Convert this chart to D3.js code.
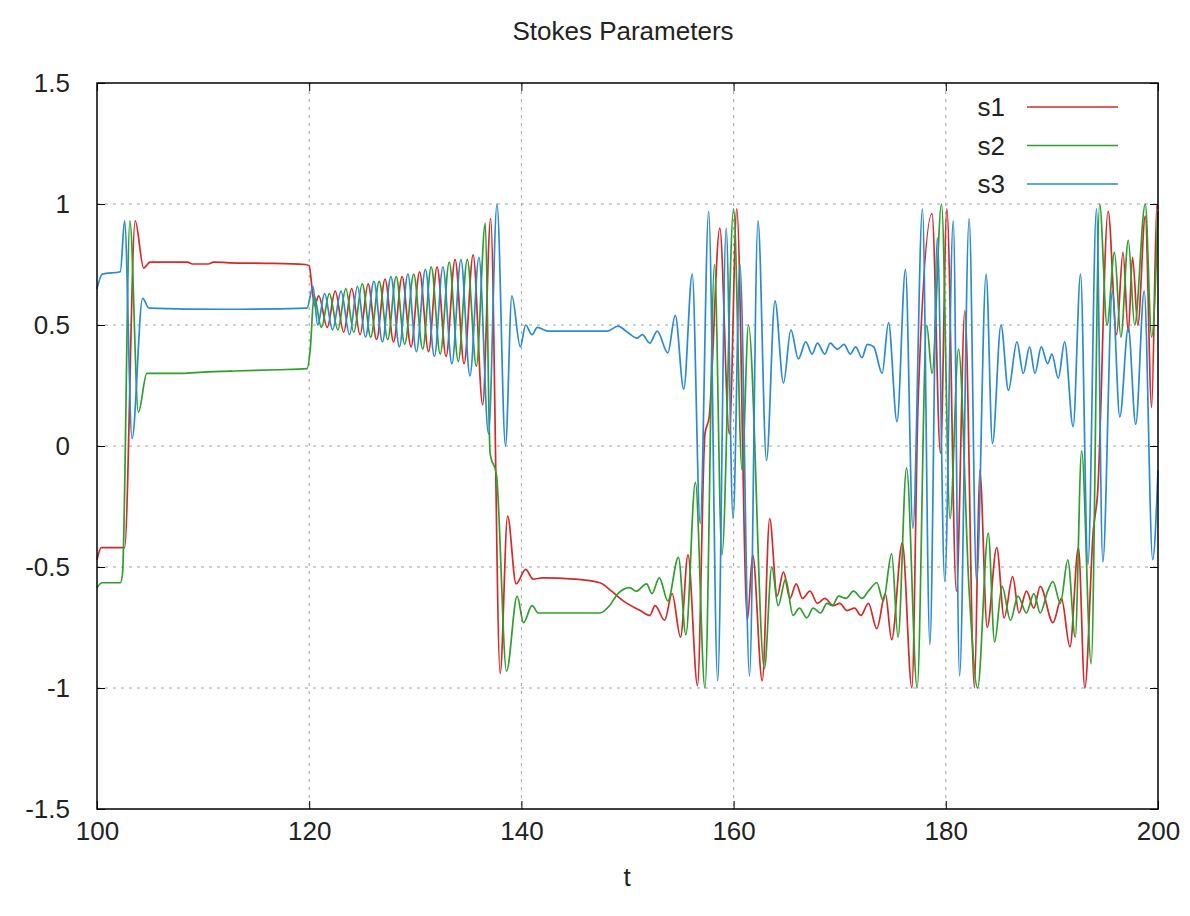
<!DOCTYPE html>
<html>
<head>
<meta charset="utf-8">
<script src="https://cdn.jsdelivr.net/npm/d3@7"></script>
<style>
  body { margin: 0; background: #fff; }
  text { font-family: "Liberation Sans", Arial, sans-serif; fill: #222; }
</style>
</head>
<body>
<svg id="chart"></svg>
<script>
// Stokes parameters, as [t, value] pairs
const s1Points = [
  [100.0,-0.47],[100.4,-0.42],[102.6,-0.42],[103.6,0.93],[104.4,0.735],[105.0,0.76],[108.5,0.76],[109.0,0.752],
  [110.5,0.752],[111.0,0.76],[112.5,0.757],[116.0,0.755],[119.6,0.75],[120.0,0.745],[120.25,0.66],[120.5,0.58],
  [120.9,0.62],[121.7,0.49],[122.45,0.64],[123.25,0.47],[124.0,0.65],[124.8,0.46],[125.55,0.67],[126.35,0.44],
  [127.15,0.69],[127.95,0.43],[128.75,0.70],[129.6,0.41],[130.4,0.72],[131.25,0.39],[132.05,0.74],[132.9,0.37],
  [133.75,0.77],[134.6,0.34],[135.45,0.79],[136.35,0.17],[137.1,0.94],[138.0,-0.94],[138.7,-0.29],[139.5,-0.57],
  [140.4,-0.51],[141.1,-0.55],[142.0,-0.545],[145.0,-0.55],[147.4,-0.565],[148.5,-0.6],[149.6,-0.64],[151.2,-0.68],
  [152.1,-0.70],[152.6,-0.66],[153.5,-0.72],[154.2,-0.61],[155.0,-0.79],[155.7,-0.45],[156.6,-0.99],[157.3,0.05],
  [157.7,0.12],[158.7,0.9],[159.6,0.05],[160.3,0.98],[161.3,-0.72],[161.8,-0.45],[162.7,-0.97],[163.4,-0.3],
  [164.1,-0.62],[164.7,-0.52],[165.3,-0.63],[165.9,-0.57],[166.5,-0.63],[167.2,-0.6],[167.9,-0.65],[168.6,-0.63],
  [169.4,-0.66],[170.0,-0.65],[170.7,-0.68],[171.4,-0.67],[172.0,-0.70],[172.7,-0.65],[173.5,-0.755],[174.3,-0.61],
  [174.9,-0.80],[175.9,-0.40],[176.8,-1.0],[177.4,0.2],[178.7,0.96],[179.5,-0.03],[180.1,0.98],[181.0,-0.6],
  [181.8,0.56],[182.7,-1.0],[183.2,-0.1],[183.9,-0.75],[184.8,-0.42],[185.5,-0.71],[186.3,-0.54],[186.9,-0.69],
  [187.6,-0.6],[188.3,-0.67],[188.9,-0.58],[190.1,-0.73],[190.9,-0.63],[191.7,-0.83],[192.5,-0.42],[193.1,-1.0],
  [193.9,-0.35],[194.3,-0.2],[195.3,0.97],[196.1,0.46],[196.7,0.80],[197.2,0.47],[197.6,0.78],[198.1,0.5],
  [198.8,0.95],[199.4,0.16],[199.9,1.0],[200.0,0.98]
];
const s2Points = [
  [100.0,-0.585],[100.5,-0.565],[102.2,-0.565],[102.4,-0.53],[103.1,0.93],[103.9,0.14],[104.7,0.30],[108.0,0.30],
  [110.0,0.305],[113.0,0.31],[117.0,0.315],[119.8,0.32],[120.1,0.4],[120.45,0.62],[121.15,0.49],[121.9,0.63],
  [122.7,0.48],[123.45,0.65],[124.2,0.47],[125.0,0.67],[125.8,0.45],[126.6,0.68],[127.4,0.44],[128.2,0.70],
  [129.0,0.42],[129.85,0.71],[130.7,0.40],[131.5,0.74],[132.35,0.38],[133.2,0.76],[134.05,0.35],[134.9,0.77],
  [135.75,0.33],[136.6,0.92],[137.05,-0.03],[137.65,-0.12],[138.6,-0.93],[139.6,-0.62],[140.2,-0.73],[141.0,-0.66],
  [141.6,-0.69],[147.4,-0.69],[148.3,-0.66],[149.1,-0.61],[150.2,-0.585],[150.8,-0.6],[151.8,-0.57],[152.3,-0.61],
  [153.0,-0.545],[153.8,-0.64],[154.8,-0.46],[155.5,-0.78],[156.4,-0.15],[157.3,-1.0],[158.2,0.75],[158.9,-0.45],
  [160.0,0.98],[160.8,-0.1],[161.4,0.5],[162.9,-0.92],[163.6,-0.5],[164.2,-0.66],[164.9,-0.55],[165.6,-0.7],
  [166.2,-0.67],[166.9,-0.71],[167.5,-0.67],[168.2,-0.69],[168.8,-0.65],[169.3,-0.66],[169.9,-0.62],[170.6,-0.63],
  [171.3,-0.6],[172.1,-0.63],[172.7,-0.6],[173.5,-0.565],[174.1,-0.64],[174.9,-0.445],[175.5,-0.79],[176.3,-0.09],
  [177.3,-1.0],[178.2,0.5],[178.7,0.3],[179.6,1.0],[180.4,-0.3],[181.2,0.4],[182.2,-0.6],[183.0,-1.0],
  [184.0,-0.36],[184.6,-0.81],[185.3,-0.58],[186.1,-0.72],[186.8,-0.62],[187.6,-0.69],[188.3,-0.61],[188.9,-0.69],
  [189.6,-0.6],[190.1,-0.56],[190.8,-0.65],[191.5,-0.47],[192.2,-0.79],[192.8,-0.02],[193.7,-0.9],[194.5,1.0],
  [195.2,0.5],[195.9,0.8],[196.5,0.45],[197.2,0.85],[197.8,0.5],[198.8,1.0],[199.4,0.45],[200.0,0.97]
];
const s3Points = [
  [100.0,0.65],[100.5,0.71],[102.2,0.72],[102.6,0.93],[103.3,0.03],[104.3,0.61],[104.9,0.57],[112.0,0.565],
  [119.8,0.57],[120.35,0.66],[120.8,0.5],[121.45,0.63],[122.2,0.48],[123.0,0.64],[123.8,0.46],[124.55,0.66],
  [125.3,0.45],[126.1,0.68],[126.9,0.43],[127.7,0.70],[128.5,0.41],[129.3,0.71],[130.1,0.39],[130.95,0.73],
  [131.8,0.37],[132.6,0.74],[133.45,0.34],[134.3,0.77],[135.15,0.29],[136.0,0.78],[136.9,0.05],[137.7,1.0],
  [138.5,0.0],[139.1,0.62],[139.9,0.41],[140.4,0.5],[141.0,0.46],[141.5,0.49],[142.5,0.475],[148.1,0.475],
  [149.1,0.495],[150.0,0.47],[150.9,0.446],[151.4,0.46],[152.1,0.425],[152.8,0.475],[153.8,0.385],[154.5,0.54],
  [155.3,0.235],[156.1,0.71],[156.85,-0.32],[157.65,0.97],[158.5,-0.97],[159.3,0.9],[159.95,-0.3],[160.6,0.75],
  [161.5,-0.95],[162.3,0.93],[163.1,-0.06],[163.9,0.6],[164.7,0.26],[165.4,0.48],[166.1,0.36],[166.8,0.43],
  [167.4,0.38],[167.9,0.425],[168.6,0.38],[169.1,0.425],[169.8,0.40],[170.4,0.42],[171.0,0.38],[171.5,0.41],
  [172.1,0.365],[172.6,0.42],[173.2,0.41],[174.0,0.30],[174.6,0.51],[175.4,0.10],[176.2,0.73],[176.9,-0.34],
  [177.8,0.98],[178.5,-0.82],[179.2,0.86],[179.9,-0.56],[180.7,0.93],[181.3,-0.95],[182.2,0.94],[182.9,-0.56],
  [183.8,0.71],[184.4,0.01],[185.2,0.5],[185.9,0.23],[186.7,0.43],[187.3,0.30],[187.9,0.41],[188.4,0.30],
  [189.0,0.41],[189.6,0.34],[190.0,0.38],[190.6,0.28],[191.2,0.43],[192.0,0.08],[192.7,0.71],[193.4,-0.49],
  [194.2,0.98],[194.8,-0.48],[195.7,0.64],[196.4,0.12],[197.2,0.49],[197.9,0.09],[198.7,0.64],[199.5,-0.47],
  [200.0,-0.1]
];

const seriesNames = ["s1", "s2", "s3"];
const seriesColors = ["#d42a2a", "#2e9e2e", "#2a8ad2"];
const xTicks = [100, 120, 140, 160, 180, 200];
const yTicks = [-1.5, -1, -0.5, 0, 0.5, 1, 1.5];

let svgWidth = 1190;
let svgHeight = 916;

let margin = { top: 83, right: 32, bottom: 107, left: 97 };

let width = svgWidth - margin.left - margin.right;
let height = svgHeight - margin.top - margin.bottom;

let svg = d3.select("#chart")
  .attr("width", svgWidth)
  .attr("height", svgHeight);

let chartGroup = svg.append("g")
  .attr("transform", `translate(${margin.left}, ${margin.top})`);

let xScale = d3.scaleLinear().domain([100, 200]).range([0, width]);
let yScale = d3.scaleLinear().domain([-1.5, 1.5]).range([height, 0]);

// dashed grid
chartGroup.append("g")
  .selectAll("line")
  .data(xTicks.slice(1, -1))
  .enter()
  .append("line")
  .attr("x1", d => xScale(d)).attr("x2", d => xScale(d))
  .attr("y1", 0).attr("y2", height)
  .attr("stroke", "#a0a0a0")
  .attr("stroke-width", 1)
  .attr("stroke-dasharray", "3,5");

chartGroup.append("g")
  .selectAll("line")
  .data(yTicks.slice(1, -1))
  .enter()
  .append("line")
  .attr("x1", 0).attr("x2", width)
  .attr("y1", d => yScale(d)).attr("y2", d => yScale(d))
  .attr("stroke", "#a0a0a0")
  .attr("stroke-width", 1)
  .attr("stroke-dasharray", "3,5");

// series
let line = d3.line()
  .x(d => xScale(d[0]))
  .y(d => yScale(d[1]))
  .curve(d3.curveMonotoneX);

let allSeries = [s1Points, s2Points, s3Points];

chartGroup.append("g")
  .selectAll("path")
  .data(allSeries)
  .enter()
  .append("path")
  .attr("d", d => line(d))
  .attr("fill", "none")
  .attr("stroke", (d, i) => seriesColors[i])
  .attr("stroke-width", 1.7)
  .attr("stroke-linejoin", "round");

// axes, ticks pointing inward, mirrored on top and right
// plain hyphen for negatives, like the original
let bottomAxis = d3.axisBottom(xScale).tickValues(xTicks).tickSize(-8).tickPadding(13).tickFormat(d => String(d));
let leftAxis = d3.axisLeft(yScale).tickValues(yTicks).tickSize(-8).tickPadding(27).tickFormat(d => String(d));
let topAxis = d3.axisTop(xScale).tickValues(xTicks).tickSize(-8).tickFormat("");
let rightAxis = d3.axisRight(yScale).tickValues(yTicks).tickSize(-8).tickFormat("");

function styleAxis(g) {
  g.select(".domain").remove();
  g.selectAll(".tick line").attr("stroke", "#000").attr("stroke-width", 1);
  g.selectAll("text").style("font-size", "26px").attr("fill", "#222");
}

chartGroup.append("g").attr("transform", `translate(0, ${height})`).call(bottomAxis).call(styleAxis);
chartGroup.append("g").call(leftAxis).call(styleAxis);
chartGroup.append("g").call(topAxis).call(styleAxis);
chartGroup.append("g").attr("transform", `translate(${width}, 0)`).call(rightAxis).call(styleAxis);

// frame
chartGroup.append("rect")
  .attr("x", 0).attr("y", 0)
  .attr("width", width).attr("height", height)
  .attr("fill", "none")
  .attr("stroke", "#000")
  .attr("stroke-width", 1.5);

// legend
let legend = chartGroup.append("g");
seriesNames.forEach((name, i) => {
  let ly = 24 + i * 38.5;
  legend.append("text")
    .attr("x", 908).attr("y", ly).attr("dy", "0.35em")
    .attr("text-anchor", "end")
    .style("font-size", "26px")
    .text(name);
  legend.append("line")
    .attr("x1", 930).attr("x2", 1021)
    .attr("y1", ly).attr("y2", ly)
    .attr("stroke", seriesColors[i])
    .attr("stroke-width", 1.7);
});

// title and axis label
svg.append("text")
  .attr("x", 623).attr("y", 40)
  .attr("text-anchor", "middle")
  .style("font-size", "26px")
  .text("Stokes Parameters");

svg.append("text")
  .attr("x", 627).attr("y", 886)
  .attr("text-anchor", "middle")
  .style("font-size", "26px")
  .text("t");
</script>
</body>
</html>
